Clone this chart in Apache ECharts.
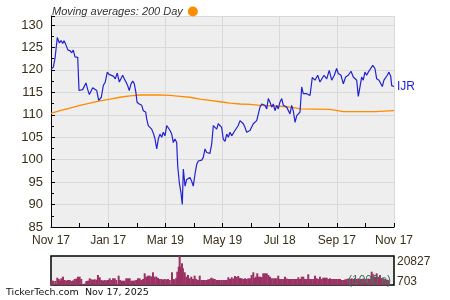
<!DOCTYPE html>
<html><head><meta charset="utf-8">
<script src="https://cdn.jsdelivr.net/npm/echarts@6/dist/echarts.min.js"></script>
<style>html,body{margin:0;padding:0;background:#fff}#c{width:450px;height:300px}</style>
</head><body><div id="c"></div>
<script>
const tickLabels = ['Nov 17','Jan 17','Mar 19','May 19','Jul 18','Sep 17','Nov 17'];
const priceDays = [0,2.5,4.3,6.7,8.9,10.7,12.5,13.9,15.3,16.8,18.1,20.3,22.1,23.8,25.6,27.4,28.5,29.9,31.7,33.8,35.5,37.3,39.2,40.9,42.7,44.5,46.2,48.8,50.9,52.3,53.7,55.8,57.9,60.1,61.9,64.0,66.5,68.6,70.7,72.9,74.7,76.5,78.2,80.0,81.8,83.5,85.4,87.2,88.9,90.7,91.8,94.2,96.8,98.5,101.0,102.1,103.8,105.6,107.4,109.2,111.0,112.8,114.5,116.3,118.1,119.8,121.6,123.5,125.2,127.0,128.8,130.5,132.3,134.1,135.2,136.9,138.7,140.1,141.2,143.0,144.8,146.5,148.3,150.1,151.8,153.6,155.5,157.2,159.0,160.8,162.5,164.3,166.1,167.8,169.6,171.5,173.2,175.0,176.8,178.5,180.3,182.1,183.8,185.7,187.5,189.2,191.0,192.8,194.5,196.3,198.1,199.8,201.7,203.5,205.2,207.0,208.8,210.5,212.3,214.1,215.9,217.7,219.5,221.2,223.0,224.8,226.5,228.3,230.2,231.9,233.7,235.5,237.2,239.0,240.8,242.5,244.3,246.2,247.9,249.7,251.5,253.2,255.0,256.8,258.5,260.4,262.2,263.9,265.7,267.5,269.2,271.0,272.8,274.5,276.4,278.8,281.7,284.6,287.0,288.8,291.3,294.2,296.9,299.5,302.3,304.8,306.5,309.4,311.9,314.4,317.2,320.1,322.6,324.4,326.2,327.9,329.7,331.5,333.2,335.0,336.8,338.6,341.1,343.3,345.7,347.5,350.0,351.8,353.5,355.3,357.1,358.8,360.6,362.5,363.5,366.0];
const priceValues = [120.1,120.6,122.6,127.2,126.0,126.5,125.9,126.5,125.9,126.3,124.4,124.3,123.8,124.4,122.9,123.0,122.8,115.4,115.0,115.6,115.4,117.1,115.6,114.5,114.7,116.0,116.0,115.4,113.2,112.8,113.9,116.5,117.3,119.5,119.0,118.8,118.6,118.0,119.3,117.3,116.9,118.8,118.0,117.3,116.5,115.4,116.9,117.5,116.9,114.8,112.8,112.4,112.1,110.9,110.6,109.1,107.6,108.0,106.8,105.9,104.6,102.4,104.6,105.7,105.0,106.1,105.3,107.6,107.2,106.5,105.7,103.8,104.6,103.8,98.6,94.9,92.6,90.0,97.9,94.1,95.6,95.2,96.0,95.2,94.1,96.7,99.0,99.7,100.1,99.9,100.5,102.4,101.6,102.0,101.4,103.5,107.6,108.0,106.8,108.0,108.1,107.2,104.6,104.1,105.7,105.0,106.1,105.3,105.7,106.5,106.3,107.6,108.7,109.1,108.0,107.2,106.1,105.7,106.5,106.1,108.0,108.3,108.7,109.1,111.7,112.4,112.2,112.1,111.3,113.6,112.8,111.7,112.4,110.9,112.1,111.3,112.8,113.6,112.1,112.2,111.7,112.1,110.2,112.1,110.9,108.3,109.8,110.2,110.6,116.2,114.7,114.3,114.7,114.7,114.3,118.3,117.7,118.8,117.3,116.9,118.8,118.0,119.9,117.7,118.8,120.3,119.2,118.8,116.9,118.4,118.8,119.7,118.4,118.8,117.7,114.1,116.2,118.4,117.7,119.5,118.8,119.5,120.3,121.0,120.3,118.0,117.7,118.0,116.3,117.7,117.5,118.8,119.5,118.6,116.5,116.3];
const maDays = [0,9.6,20.3,30.9,41.6,52.3,63,73.6,84.3,95,116.3,127,137.6,148.3,159,169.6,180.3,191,201.7,212.3,223,244.3,255,262,266,297.7,304,312,345.7,347,366];
const maValues = [110.3,110.9,111.5,112.1,112.6,113.1,113.5,113.9,114.2,114.4,114.4,114.3,114.1,113.9,113.5,113.2,112.9,112.6,112.4,112.3,112.1,111.9,111.7,111.5,111.3,111.2,111.0,110.7,110.7,110.9,110.9];
const volDays = [0.5,2.1,4.6,6.7,8.2,9.6,11.0,12.8,14.6,16.3,18.1,20.0,21.7,23.5,25.3,27.0,28.8,30.6,32.3,34.1,36.0,37.7,39.5,41.3,43.0,44.8,46.6,48.3,50.1,52.0,53.7,55.5,57.3,59.0,60.8,62.6,64.3,66.2,68.0,69.7,72.2,73.6,75.0,76.8,78.6,80.3,82.2,84.0,85.7,87.5,89.3,91.0,92.8,94.6,96.3,98.2,100.0,101.7,103.5,105.3,107.0,108.8,110.6,112.4,114.2,116.0,117.7,119.5,121.3,123.0,124.8,126.7,129.1,130.5,132.0,133.7,134.8,136.3,137.3,138.4,139.8,140.8,142.7,144.4,146.2,148.0,149.7,151.5,153.3,155.0,156.8,158.7,160.4,162.2,164.0,165.7,167.5,169.3,171.0,172.9,174.7,176.4,178.2,180.0,181.7,183.7,185.7,187.5,189.2,191.0,192.8,194.5,196.3,198.1,199.8,201.7,203.5,205.2,207.0,208.8,210.5,212.3,214.1,215.9,216.9,218.7,220.1,221.2,223.0,224.8,226.5,228.3,230.2,231.9,233.7,235.5,237.2,239.0,240.8,242.5,244.3,246.2,247.9,249.7,251.5,253.2,255.0,256.8,258.5,260.4,262.2,263.9,265.7,267.5,269.2,271.0,272.8,274.5,276.4,278.2,279.9,281.7,283.5,285.2,287.0,288.8,290.5,292.4,294.2,295.9,297.7,299.5,301.2,303.0,304.8,306.5,308.4,310.2,311.9,313.7,315.5,317.2,319.0,320.9,322.6,324.4,326.2,327.9,329.7,331.5,333.2,335.0,336.8,338.6,340.4,342.2,343.9,345.7,347.5,349.2,351.0,352.8,354.6,356.4,358.2,359.9,361.7,363.5];
const volValues = [3090,3090,2870,5240,4310,3230,4810,5960,3590,3230,3590,3590,2870,3230,4310,4670,5960,5960,4310,720,1080,2870,3090,4810,4090,3810,4090,3810,7180,5530,3590,3230,3590,3370,3590,4810,3590,4810,4810,3590,6680,3590,3090,3090,3090,4810,4810,4810,3090,3090,3230,3590,4810,4810,3590,4310,8400,5960,6680,6680,6100,9120,5960,5960,5030,4310,4310,3950,4310,3950,4310,3590,9120,4310,4090,5030,9550,13140,20827,13140,15580,11990,9120,5960,7180,4810,5960,4310,6680,4310,3590,6680,3590,3590,3590,3590,3950,4310,5240,4670,4310,3590,3590,3590,3590,3590,3590,3590,5530,4310,5530,4670,6460,5740,6460,5030,4810,4310,4810,4310,4810,4810,7180,9120,5030,5960,8400,5960,5960,5740,8400,8400,8400,7180,5960,4810,4810,4810,4810,6680,4310,4310,4310,5960,4670,4310,4310,4310,4310,4310,4310,5530,4310,5960,5960,4310,4310,7680,4310,4310,4310,6680,4810,4310,5960,4310,5240,5240,5240,4310,4810,4310,4310,4310,4310,4310,4310,3590,3590,3950,4310,4670,4310,4810,4310,5030,4310,4670,4310,4310,4670,4310,4310,4670,4310,9550,7680,5740,8400,5740,7180,5030,4810,4310,3950,3590];
const volMaxLabel = '20827', volMinLabel = '703';

const pair = (a, b) => a.map((d, i) => [d, b[i]]);
const txt = '#3a2e1a';
const chart = echarts.init(document.getElementById('c'), null, {renderer: 'canvas'});
chart.setOption({
  animation: false,
  backgroundColor: '#fff',
  legend: {
    left: 47, top: 1, align: 'right', icon: 'circle', itemWidth: 10, itemHeight: 10, itemGap: 4,
    data: ['Moving averages: 200 Day'],
    textStyle: {fontFamily: 'Liberation Sans', fontStyle: 'italic', fontSize: 11, color: '#333', padding: [0, 0, 0, 0]}
  },
  grid: [
    {left: 51, top: 16, width: 343, height: 211, show: true, backgroundColor: '#eeeeee', borderWidth: 0},
    {left: 51, top: 256, width: 343, height: 29, show: true, backgroundColor: '#eeeeee', borderColor: '#000', borderWidth: 1.5}
  ],
  xAxis: [
    {type: 'value', gridIndex: 0, min: 0, max: 366, interval: 61,
     axisLine: {show: true, onZero: false, lineStyle: {color: '#000', width: 1}},
     axisTick: {show: true, inside: true, length: 4, lineStyle: {color: '#000'}},
     minorTick: {show: true, splitNumber: 2, length: 4, lineStyle: {color: '#000'}},
     splitLine: {show: true, lineStyle: {color: '#d9d9d9', width: 1}},
     axisLabel: {margin: 8, fontFamily: 'Liberation Sans', fontSize: 12, color: txt,
       formatter: v => tickLabels[Math.round(v / 61)]}},
    {type: 'value', gridIndex: 1, min: 0, max: 366, show: false}
  ],
  yAxis: [
    {type: 'value', gridIndex: 0, min: 85, max: 132, interval: 5,
     axisLine: {show: true, lineStyle: {color: '#000', width: 1}},
     axisTick: {show: true, inside: true, length: 4, lineStyle: {color: '#000'}},
     minorTick: {show: true, splitNumber: 2, length: 3, lineStyle: {color: '#000'}},
     splitLine: {show: true, lineStyle: {color: '#d9d9d9', width: 1}},
     axisLabel: {margin: 8, showMaxLabel: false, fontFamily: 'Liberation Sans', fontSize: 13, color: txt}},
    {type: 'value', gridIndex: 1, min: 0, max: 20827, show: false}
  ],
  series: [
    {name: 'Moving averages: 200 Day', type: 'line', xAxisIndex: 0, yAxisIndex: 0, data: pair(maDays, maValues),
     showSymbol: false, symbol: 'circle', color: '#ff8c00', lineStyle: {color: '#ff8c00', width: 1.3}, z: 3},
    {name: 'IJR', type: 'line', xAxisIndex: 0, yAxisIndex: 0, data: pair(priceDays, priceValues),
     showSymbol: false, color: '#2222d4', lineStyle: {color: '#2222d4', width: 1.2}, z: 4,
     endLabel: {show: true, formatter: 'IJR', distance: 3, fontFamily: 'Liberation Sans', fontSize: 12, color: '#2222d4'}},
    {name: 'Volume', type: 'bar', xAxisIndex: 1, yAxisIndex: 1, data: pair(volDays, volValues),
     barWidth: 2, itemStyle: {color: '#9b3163'}, z: 2}
  ],
  graphic: [
    {type: 'text', left: 397, top: 256, style: {text: volMaxLabel, font: '12px "Liberation Sans"', fill: txt}},
    {type: 'text', left: 397, top: 276, style: {text: volMinLabel, font: '12px "Liberation Sans"', fill: txt}},
    {type: 'text', left: 348, top: 275, z: 10, style: {text: "(1000's)", font: '12px "Liberation Sans"', fill: '#3c7a5a'}},
    {type: 'text', left: 6, top: 288, style: {text: 'TickerTech.com  Nov 17, 2025', font: '9.5px "DejaVu Sans"', fill: '#111'}}
  ]
});
</script></body></html>
